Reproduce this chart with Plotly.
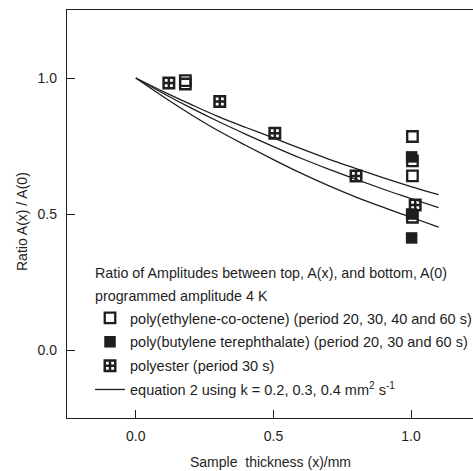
import plotly.graph_objects as go

# ---- data ----
peco_x = [0.18, 0.18, 1.005, 1.005, 1.005, 1.005]
peco_y = [0.99, 0.978, 0.785, 0.695, 0.64, 0.488]

pbt_x = [1.002, 1.002, 1.002]
pbt_y = [0.71, 0.50, 0.412]

poly_x = [0.12, 0.305, 0.505, 0.80, 1.015]
poly_y = [0.982, 0.914, 0.797, 0.64, 0.533]

curve_x = [0.0, 0.1, 0.2, 0.3, 0.4, 0.5, 0.6, 0.7, 0.8, 0.9, 1.0, 1.1]
curve_k04 = [1.0, 0.950, 0.903, 0.858, 0.818, 0.780, 0.740, 0.702, 0.667, 0.633, 0.601, 0.571]
curve_k03 = [1.0, 0.943, 0.890, 0.840, 0.793, 0.748, 0.705, 0.665, 0.627, 0.591, 0.557, 0.523]
curve_k02 = [1.0, 0.931, 0.866, 0.806, 0.752, 0.700, 0.650, 0.604, 0.562, 0.524, 0.488, 0.452]

ticks = [0.0, 0.5, 1.0]
tick_text = ["0.0", "0.5", "1.0"]

INK = "#1e1e1e"
FONT = "Liberation Sans, Arial, sans-serif"
FS = 14.3
LFS = 14.5

fig = go.Figure()

curves = [curve_k04, curve_k03, curve_k02]
for i, cy in enumerate(curves):
    fig.add_trace(go.Scatter(
        x=curve_x, y=cy, mode="lines",
        line=dict(color=INK, width=1.3, shape="spline"),
        showlegend=False, hoverinfo="skip"))

fig.add_trace(go.Scatter(
    x=peco_x, y=peco_y, mode="markers", legendgroup="a",
    name="poly(ethylene-co-octene) (period 20, 30, 40 and 60 s)",
    marker=dict(symbol="square-open", size=10.5, color=INK, line=dict(width=2.3, color=INK))))
fig.add_trace(go.Scatter(
    x=pbt_x, y=pbt_y, mode="markers", legendgroup="b",
    name="poly(butylene terephthalate) (period 20, 30 and 60 s)",
    marker=dict(symbol="square", size=11.5, color=INK, line=dict(width=0))))
fig.add_trace(go.Scatter(
    x=poly_x, y=poly_y, mode="markers", legendgroup="c",
    name="polyester (period 30 s)",
    marker=dict(symbol="square-cross-open", size=10.5, color=INK, line=dict(width=2.5, color=INK))))
# legend-only entry for the equation curves
fig.add_trace(go.Scatter(
    x=[None], y=[None], mode="lines", legendgroup="d",
    name="equation 2 using k = 0.2, 0.3, 0.4 mm<sup>2</sup> s<sup>-1</sup>",
    line=dict(color=INK, width=1.3)))

L, T, B = 67, 10, 53
W, H = 473, 471
pw = W - L
ph = H - T - B

def px_x(p):
    return (p - L) / pw

def px_y(p):
    return (H - B - p) / ph

fig.update_layout(
    width=W, height=H,
    margin=dict(l=L, r=0, t=T, b=B, autoexpand=False),
    paper_bgcolor="white", plot_bgcolor="white",
    font=dict(family=FONT, size=FS, color=INK),
    showlegend=True,
    legend=dict(
        x=px_x(90), y=px_y(302), xanchor="left", yanchor="top",
        bgcolor="rgba(0,0,0,0)", borderwidth=0,
        font=dict(family=FONT, size=LFS, color=INK),
        tracegroupgap=2,
    ),
    xaxis=dict(
        range=[-0.25, 1.225], tickvals=ticks, ticktext=tick_text,
        ticks="inside", ticklen=8, tickwidth=1.2, tickcolor=INK,
        showline=True, linecolor=INK, linewidth=1.3, mirror=True,
        showgrid=False, zeroline=False,
        tickfont=dict(family=FONT, size=14, color=INK),
        ticklabelstandoff=5,
    ),
    yaxis=dict(
        range=[-0.25, 1.25], tickvals=ticks, ticktext=tick_text,
        ticks="inside", ticklen=8, tickwidth=1.2, tickcolor=INK,
        showline=True, linecolor=INK, linewidth=1.3, mirror=False,
        showgrid=False, zeroline=False,
        tickfont=dict(family=FONT, size=14, color=INK),
        ticklabelstandoff=6,
    ),
    annotations=[
        dict(text="Ratio of Amplitudes between top, A(x), and bottom, A(0)",
             xref="paper", yref="paper", x=px_x(93), y=px_y(273),
             xanchor="left", yanchor="middle", showarrow=False,
             font=dict(family=FONT, size=FS, color=INK)),
        dict(text="programmed amplitude 4 K",
             xref="paper", yref="paper", x=px_x(93), y=px_y(296),
             xanchor="left", yanchor="middle", showarrow=False,
             font=dict(family=FONT, size=FS, color=INK)),
        dict(text="Sample\u00a0 thickness (x)/mm",
             xref="paper", yref="paper", x=px_x(270), y=px_y(462),
             xanchor="center", yanchor="middle", showarrow=False,
             font=dict(family=FONT, size=14, color=INK)),
        dict(text="Ratio A(x) / A(0)", textangle=-90,
             xref="paper", yref="paper", x=px_x(22), y=px_y(222),
             xanchor="center", yanchor="middle", showarrow=False,
             font=dict(family=FONT, size=14, color=INK)),
    ],
)

fig.write_html("out.html")
